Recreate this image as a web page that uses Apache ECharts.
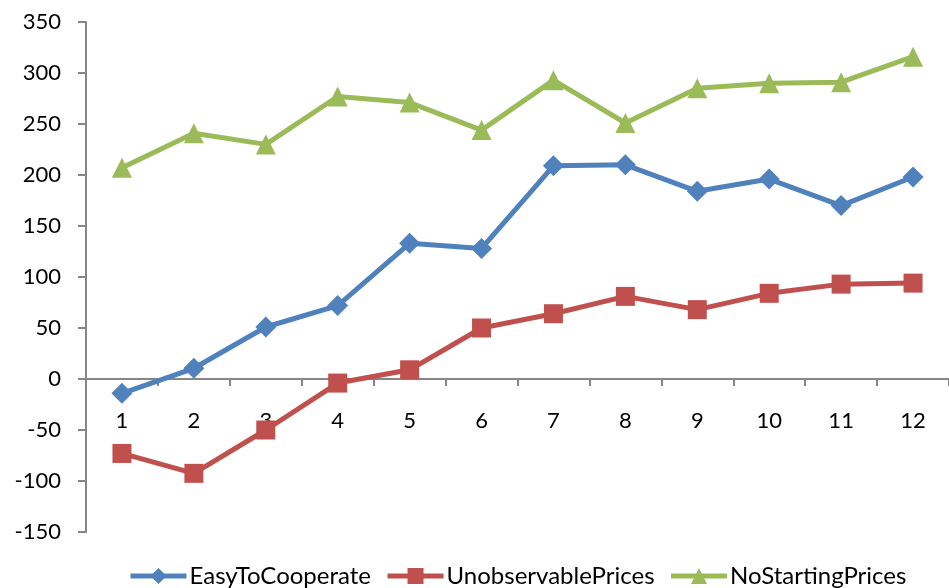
<!DOCTYPE html>
<html>
<head>
<meta charset="utf-8">
<script src="https://cdn.jsdelivr.net/npm/echarts@6/dist/echarts.min.js"></script>
<style>html,body{margin:0;padding:0;background:#fff}#c{width:949px;height:588px}</style>
</head>
<body>
<div id="c"></div>
<script>
const categories = ['1','2','3','4','5','6','7','8','9','10','11','12'];
const easyToCooperate = [-14, 10.5, 51, 72, 133, 128, 209, 210, 184, 196, 170, 198];
const unobservablePrices = [-73, -92.5, -50, -4, 9, 50, 64, 81, 68, 84, 93, 94];
const noStartingPrices = [207, 241, 230, 277, 271, 244, 293, 251, 285, 290, 291, 316];
const yMin = -150, yMax = 350, yStep = 50;

const FONT = 'Lato';
const GRID_TOP = 22, GRID_BOTTOM = 56, H = 588;
const plotH = H - GRID_TOP - GRID_BOTTOM;
const zeroOffset = -plotH * (0 - yMin) / (yMax - yMin);

const chart = echarts.init(document.getElementById('c'), null, {renderer: 'canvas'});
function mk(name, data, color, symbol, size) {
  return {
    name, type: 'line', data, symbol, symbolSize: size,
    lineStyle: {color, width: 5},
    itemStyle: {color},
    animation: false
  };
}
chart.setOption({
  backgroundColor: '#ffffff',
  animation: false,
  grid: {left: 86, right: -13, top: GRID_TOP, bottom: GRID_BOTTOM},
  xAxis: {
    type: 'category', data: categories, boundaryGap: true,
    offset: zeroOffset,
    axisLine: {show: true, onZero: false, lineStyle: {color: '#868686', width: 2}},
    axisTick: {show: true, alignWithLabel: false, interval: 0, length: 7, lineStyle: {color: '#868686', width: 2}},
    axisLabel: {color: '#000', fontFamily: FONT, fontSize: 22, margin: 31},
    splitLine: {show: false}
  },
  yAxis: {
    type: 'value', min: yMin, max: yMax, interval: yStep,
    axisLine: {show: true, lineStyle: {color: '#868686', width: 2}},
    axisTick: {show: true, length: 8, lineStyle: {color: '#868686', width: 2}},
    axisLabel: {color: '#000', fontFamily: FONT, fontSize: 22, margin: 25},
    splitLine: {show: false}
  },
  legend: {
    left: 123, top: 559, itemWidth: 56, itemHeight: 20, itemGap: 14,
    lineStyle: {width: 5},
    textStyle: {color: '#000', fontFamily: FONT, fontSize: 24, padding: [0, 0, 0, -2]}
  },
  series: [
    mk('EasyToCooperate', easyToCooperate, '#4F81BD', 'diamond', 21),
    mk('UnobservablePrices', unobservablePrices, '#C0504D', 'rect', 19),
    mk('NoStartingPrices', noStartingPrices, '#9BBB59', 'triangle', 20)
  ]
});
</script>
</body>
</html>
